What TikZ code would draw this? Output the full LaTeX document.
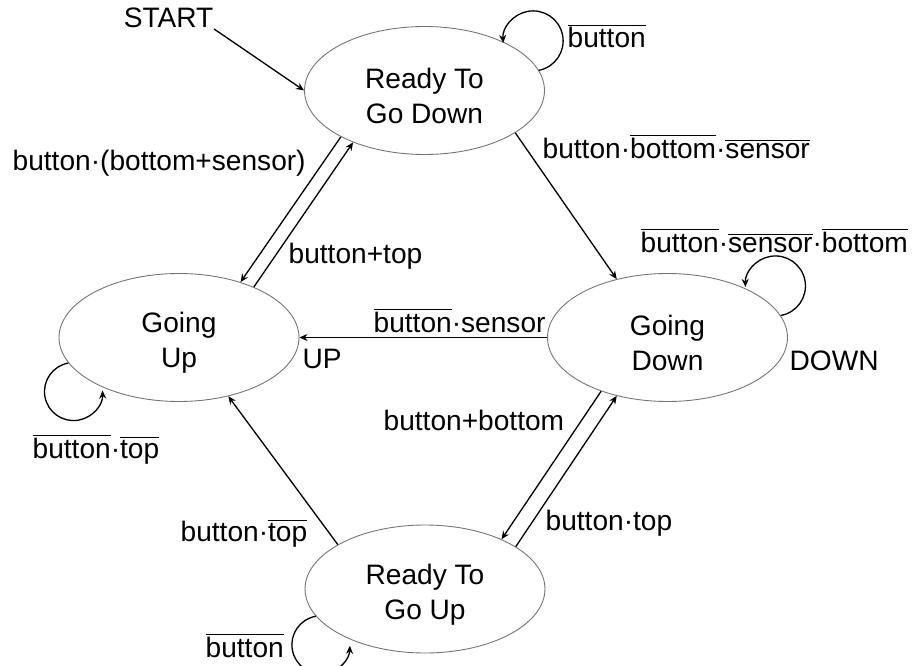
\documentclass[tikz,border=0pt]{standalone}
\usepackage{fontspec}
\setmainfont{Liberation Sans}
\usetikzlibrary{shapes.geometric,arrows.meta}

\newcommand{\ov}[1]{$\overline{\mbox{#1}}$}
\newcommand{\tl}{\rule{0pt}{0.62cm}}

\tikzset{
  stnode/.style={ellipse, draw=black!55, line width=0.5pt, minimum width=4.8cm,
    minimum height=2.56cm, inner sep=0pt, align=center},
  lbl/.style={anchor=base west, inner sep=0pt},
}

\begin{document}
\begin{tikzpicture}[x=0.02cm,y=0.02cm,>={Stealth[length=4.6pt,width=4pt]},line width=0.75pt,
    font=\fontsize{16}{19.9}\selectfont]
    \useasboundingbox (0,0) rectangle (914,-666);

    % States
    \node[stnode] (rgd) at (424.5,-90.5) {\tl Ready To\\Go Down};
    \node[stnode] (gu)  at (179,-337.5)  {\tl Going\\Up};
    \node[stnode] (gd)  at (667.5,-337.5) {\tl Going\\Down};
    \node[stnode] (rgu) at (425,-589)    {\tl Ready To\\Go Up};

    % Start arrow
    \node[lbl, anchor=base east] (start) at (214,-28) {START};
    \draw[->] (start.south east) -- (rgd.180);

    % Self loops
    \draw[->] (rgd.10) arc[start angle=-79, end angle=184, radius=30];
    \draw[->] (gd.11) arc[start angle=-80, end angle=182, radius=30];
    \draw[->] (gu.193) arc[start angle=100, end angle=362, radius=29];
    \draw[->] (rgu.194) arc[start angle=100, end angle=358, radius=29];

    % Transitions
    \draw[->] (rgd.-25) -- (gd.131);
    \draw[->] (rgd.209) -- (gu.42);
    \draw[->] (gu.34) -- (rgd.216);
    \draw[->] (gd.west) -- (gu.east);
    \draw[->] (gd.219) -- (rgu.33);
    \draw[->] (rgu.25) -- (gd.229);
    \draw[->] (rgu.153) -- (gu.-50);

    % Transition labels
    \node[lbl] (nbRgd) at (567,-48) {\ov{button}};
    \node[lbl] (bBS) at (12,-170) {button·(bottom+sensor)};
    \node[lbl] (bnBnS) at (542,-158) {button·\ov{bottom}·\ov{sensor}};
    \node[lbl] (bT) at (288,-263) {button+top};
    \node[lbl] (nbnSnB) at (640,-252) {\ov{button}·\ov{sensor}·\ov{bottom}};
    \node[lbl] (nbS) at (373,-332) {\ov{button}·sensor};
    \node[lbl] (nbnT) at (32,-458) {\ov{button}·\ov{top}};
    \node[lbl] (bB) at (383,-430) {button+bottom};
    \node[lbl] (bTop) at (545,-530) {button·top};
    \node[lbl] (bnT) at (180,-541) {button·\ov{top}};
    \node[lbl] (nbRgu) at (205,-657) {\ov{button}};

    % Outputs
    \node[lbl] (up) at (302,-368) {UP};
    \node[lbl] (down) at (789,-370) {DOWN};
\end{tikzpicture}
\end{document}
